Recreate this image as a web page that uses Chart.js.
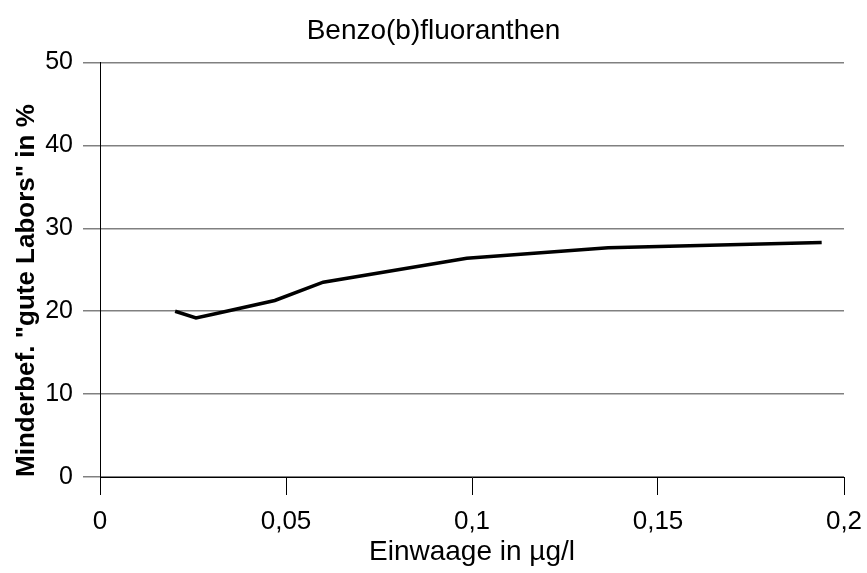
<!DOCTYPE html>
<html>
<head>
<meta charset="utf-8">
<script src="https://cdn.jsdelivr.net/npm/chart.js@4/dist/chart.umd.min.js"></script>
<style>
  html, body { margin: 0; padding: 0; background: #fff; }
  #wrap { width: 867px; height: 573px; }
</style>
</head>
<body>
<div id="wrap"><canvas id="c" width="867" height="573"></canvas></div>
<script>
const chartTitle = 'Benzo(b)fluoranthen';
const xTitle = 'Einwaage in µg/l';
const yTitle = 'Minderbef. "gute Labors" in %';
const einwaage = [0.0202, 0.0258, 0.031, 0.047, 0.060, 0.0986, 0.1366, 0.194];
const minderbefund = [20.0, 19.2, 19.7, 21.3, 23.5, 26.4, 27.65, 28.3];
const xTickValues = [0, 0.05, 0.1, 0.15, 0.2];
const xTickLabels = ['0', '0,05', '0,1', '0,15', '0,2'];
const yTickValues = [0, 10, 20, 30, 40, 50];
const yTickLabels = ['0', '10', '20', '30', '40', '50'];

const FONT = 'Liberation Sans, Arial, sans-serif';
const points = einwaage.map((x, i) => ({ x: x, y: minderbefund[i] }));

new Chart(document.getElementById('c'), {
  type: 'line',
  data: {
    datasets: [{
      data: points,
      borderColor: '#000',
      borderWidth: 3.5,
      pointRadius: 0,
      tension: 0,
      fill: false
    }]
  },
  options: {
    responsive: false,
    animation: false,
    devicePixelRatio: 1,
    layout: { padding: 0 },
    plugins: {
      legend: { display: false },
      tooltip: { enabled: false },
      title: {
        display: true,
        text: chartTitle,
        color: '#000',
        font: { family: FONT, size: 28, weight: 'normal' },
        padding: { top: 14, bottom: 15 }
      }
    },
    scales: {
      x: {
        type: 'linear',
        min: 0, max: 0.2,
        afterBuildTicks: s => { s.ticks = xTickValues.map(v => ({ value: v })); },
        afterFit: s => { s.height = 96; s.paddingRight = 0; s.paddingLeft = 0; },
        ticks: {
          color: '#000',
          font: { family: FONT, size: 26 },
          padding: 11,
          maxRotation: 0,
          autoSkip: false,
          callback: (v, i) => xTickLabels[i]
        },
        grid: { drawOnChartArea: false, drawTicks: true, tickLength: 18, color: '#000', lineWidth: 1 },
        border: { display: true, color: '#000', width: 1 },
        title: {
          display: true, text: xTitle, color: '#000',
          font: { family: FONT, size: 28 },
          padding: { top: 0, bottom: 4 }
        }
      },
      y: {
        min: 0, max: 50,
        afterBuildTicks: s => { s.ticks = yTickValues.map(v => ({ value: v })); },
        afterFit: s => { s.width = 100; },
        ticks: {
          color: '#000',
          font: { family: FONT, size: 25 },
          padding: 10,
          callback: (v, i) => yTickLabels[i]
        },
        grid: { color: '#808080', lineWidth: 1.5, tickLength: 17, drawTicks: true },
        border: { display: true, color: '#000', width: 1 },
        title: {
          display: true, text: yTitle, color: '#000',
          align: 'start',
          font: { family: FONT, size: 26, weight: 'bold' },
          padding: { top: 11, bottom: 0 }
        }
      },
      rightSpace: {
        type: 'linear',
        position: 'right',
        display: true,
        afterFit: s => { s.width = 23; },
        ticks: { display: false },
        grid: { display: false },
        border: { display: false }
      }
    }
  }
});
</script>
</body>
</html>
